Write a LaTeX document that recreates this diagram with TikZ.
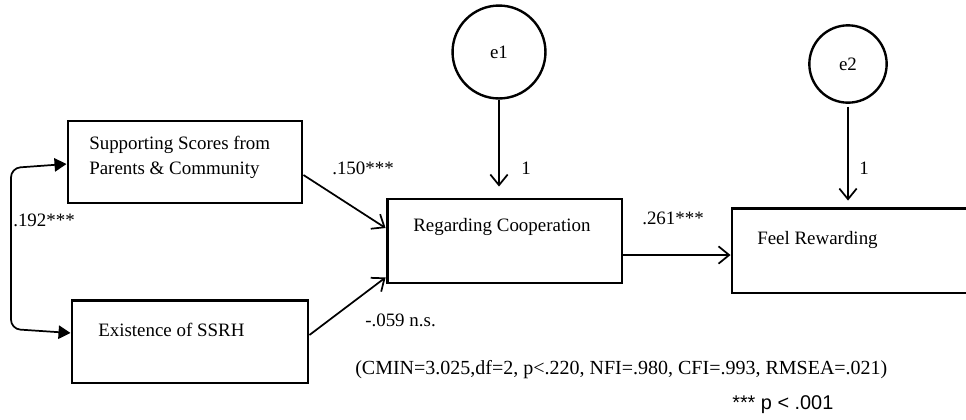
\documentclass[tikz,border=0pt]{standalone}
\usepackage{fontspec}
\setmainfont{Liberation Serif}
\newfontfamily\arialfont{Liberation Sans}
\usetikzlibrary{arrows.meta}

\tikzset{
  varbox/.style={draw, line width=2.2pt, inner sep=0pt},
  errcirc/.style={draw, circle, line width=1.8pt, inner sep=0pt, minimum size=#1},
  txt/.style={inner sep=0pt, anchor=west, font=\fontsize{14.2}{17}\selectfont},
  path/.style={line width=1.3pt, -{Straight Barb[length=8pt,width=13pt,line width=1.3pt]}},
  cov/.style={line width=1.3pt, rounded corners=7pt,
    {Triangle[length=9pt,width=10pt]}-{Triangle[length=9pt,width=10pt]}}
}

\begin{document}
\begin{tikzpicture}[x=0.75pt,y=-0.75pt]
  \fill[white] (0,0) rectangle (966,419);
  \useasboundingbox (0,0) rectangle (966,419);

  % observed variables
  \node[varbox, minimum width=175.5pt, minimum height=61.5pt] (sup) at (185,162) {};
  \node[varbox, minimum width=177pt, minimum height=62.2pt] (exist) at (190,341.5) {};
  \node[varbox, minimum width=176.2pt, minimum height=63pt] (rc) at (504.5,241) {};
  % this box runs past the right edge of the page
  \node[varbox, minimum width=180pt, minimum height=63.7pt] (fr) at (852,250.5) {};

  \node[txt, align=left, font=\fontsize{14.2}{18.8}\selectfont] (supt) at (89,157.5)
    {Supporting Scores from\\Parents \& Community};
  \node[txt] (existt) at (98,330) {Existence of SSRH};
  \node[txt] (rct) at (413,227) {Regarding Cooperation};
  \node[txt] (frt) at (757,240) {Feel Rewarding};

  % error terms
  \node[errcirc=69.7pt] (e1) at (499,52) {};
  \node[txt, anchor=center] (e1t) at (e1.center) {e1};
  \node[errcirc=58pt] (e2) at (848,64) {};
  \node[txt, anchor=center] (e2t) at (e2.center) {e2};

  % structural paths
  \draw[path] ([yshift=-9.75pt]sup.east) -- ([yshift=9.75pt]rc.west);
  \draw[path] ([yshift=4.9pt]exist.east) -- ([yshift=5.25pt]rc.south west);
  \coordinate (rcout) at ([yshift=-10.5pt]rc.east);
  \draw[path] (rcout) -- (rcout -| fr.west);
  \draw[path, shorten >=8.25pt] (e1.south) -- (e1.south |- rc.north);
  \draw[path, shorten <=2pt, shorten >=4.5pt] (e2.south) -- (e2.south |- fr.north);

  % covariance
  \draw[cov] ([yshift=-1.5pt]sup.west) -- (11,168) -- (11,329) -- ([yshift=6.4pt]exist.west);

  % coefficients
  \node[txt] (l150) at (332,168) {.150***};
  \node[txt] (l192) at (13,220) {.192***};
  \node[txt] (l261) at (642,218) {.261***};
  \node[txt] (l059) at (365,320) {-.059 n.s.};
  \node[txt] (one1) at (521,168) {1};
  \node[txt] (one2) at (859,168) {1};

  % fit indices
  \node[txt, font=\fontsize{15}{18}\selectfont] (fit) at (355,370)
    {(CMIN=3.025,df=2, p<.220, NFI=.980, CFI=.993, RMSEA=.021)};
  \node[txt, font=\arialfont\fontsize{14.9}{17}\selectfont] (pval) at (732,405) {*** p < .001};
\end{tikzpicture}
\end{document}
